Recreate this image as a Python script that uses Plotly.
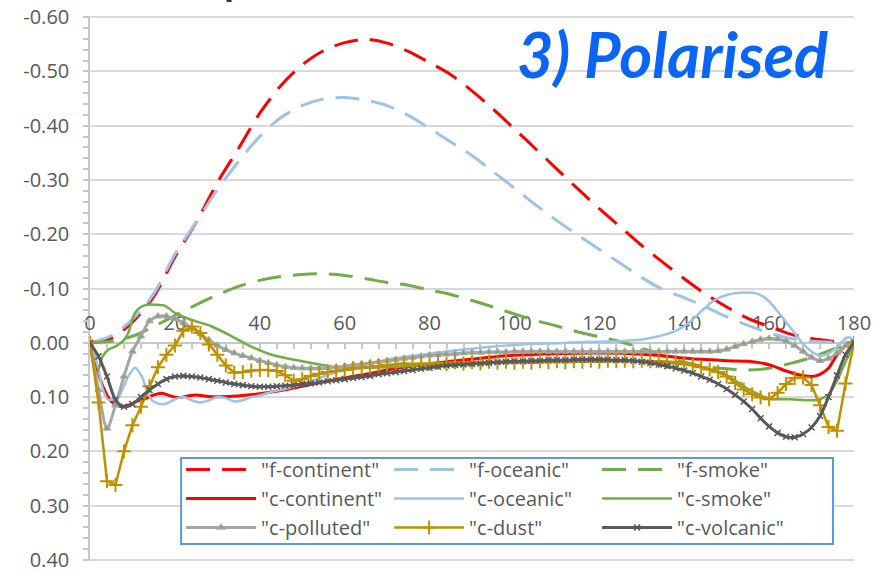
import plotly.graph_objects as go
import numpy as np

# ---------------- data ----------------
# f-series (dashed), sampled every 5 degrees
f_angle = list(range(0, 181, 5))
f_continent = [0, -0.008, -0.038, -0.085, -0.158, -0.222, -0.295, -0.358, -0.423, -0.474,
               -0.512, -0.538, -0.553, -0.559, -0.552, -0.537, -0.516, -0.494, -0.464, -0.43,
               -0.394, -0.357, -0.32, -0.283, -0.247, -0.213, -0.179, -0.148, -0.118, -0.09,
               -0.066, -0.045, -0.03, -0.016, -0.008, -0.003, 0]
f_oceanic = [0, -0.013, -0.043, -0.09, -0.163, -0.222, -0.282, -0.334, -0.38, -0.415,
             -0.437, -0.449, -0.452, -0.447, -0.437, -0.419, -0.395, -0.37, -0.345, -0.315,
             -0.285, -0.254, -0.225, -0.198, -0.172, -0.146, -0.12, -0.098, -0.083, -0.066,
             -0.048, -0.032, -0.018, -0.008, -0.003, -0.001, 0]
f_smoke = [0, -0.003, -0.012, -0.03, -0.05, -0.07, -0.088, -0.104, -0.115, -0.122,
           -0.126, -0.127, -0.124, -0.118, -0.111, -0.106, -0.097, -0.089, -0.078, -0.066,
           -0.053, -0.041, -0.031, -0.02, -0.011, -0.002, 0.01, 0.024, 0.036, 0.044,
           0.048, 0.05, 0.047, 0.038, 0.027, 0.012, 0]

# c-continent
cc_angle = [0, 1, 3, 5, 7, 9, 11, 13, 15, 17, 19, 21, 23, 25, 28, 32, 36, 40, 45, 50,
            55, 60, 65, 70, 75, 80, 85, 90, 95, 100, 110, 120, 130, 135, 140, 145, 150, 155, 158, 161,
            164, 167, 170, 172, 174, 176, 178, 180]
c_continent = [0, 0.03, 0.08, 0.108, 0.117, 0.115, 0.108, 0.103, 0.096, 0.093,
               0.098, 0.101, 0.098, 0.096, 0.099, 0.099, 0.097, 0.094, 0.088, 0.08,
               0.072, 0.065, 0.058, 0.05, 0.044, 0.039, 0.034, 0.03, 0.026, 0.023,
               0.02, 0.019, 0.021, 0.024, 0.028, 0.031, 0.033, 0.034, 0.037, 0.043,
               0.052, 0.059, 0.062, 0.058, 0.047, 0.022, 0.006, 0]

# c-oceanic
co_angle = [0, 1, 2, 3, 4.3, 6.7, 8, 9, 10.6, 12.2, 13.5, 14.5, 16, 18, 20, 22, 24, 26, 28, 30,
            32, 34, 36, 38, 40, 43, 46, 50, 55, 60, 65, 70, 75, 80, 85, 90, 95, 100, 105, 110,
            115, 120, 125, 130, 134, 138, 141, 144, 147, 150, 153, 156, 158, 160, 162, 164, 166, 168, 170, 172,
            174, 176, 178, 179, 180]
c_oceanic = [0, 0.02, 0.05, 0.085, 0.105, 0.099, 0.08, 0.062, 0.046, 0.062,
             0.09, 0.105, 0.112, 0.112, 0.104, 0.1, 0.106, 0.11, 0.106, 0.1,
             0.102, 0.108, 0.106, 0.1, 0.097, 0.09, 0.085, 0.076, 0.062, 0.05,
             0.04, 0.031, 0.025, 0.02, 0.015, 0.011, 0.007, 0.004, 0.002, 0.001,
             -0.001, -0.002, -0.003, -0.006, -0.012, -0.022, -0.036, -0.058, -0.078, -0.088,
             -0.092, -0.092, -0.088, -0.076, -0.058, -0.038, -0.018, 0.002, 0.016, 0.024,
             0.02, 0.008, -0.008, -0.01, 0]

# c-smoke
cs_angle = [0, 1.5, 3, 4.3, 6.6, 8, 9, 10.6, 12, 13.5, 15.5, 17.7, 20, 22, 24, 28.7, 33.4, 38, 42.8, 46,
            50, 57, 62, 70, 80, 90, 100, 110, 120, 130, 140, 145, 150, 155, 160, 165, 170, 172, 174, 176,
            178, 180]
c_smoke = [0, 0.058, 0.025, 0.013, 0.004, -0.005, -0.018, -0.055, -0.066, -0.07,
           -0.07, -0.068, -0.055, -0.048, -0.042, -0.03, -0.012, 0.007, 0.022, 0.028,
           0.034, 0.044, 0.046, 0.045, 0.041, 0.038, 0.035, 0.033, 0.033, 0.034,
           0.04, 0.047, 0.06, 0.085, 0.103, 0.104, 0.106, 0.104, 0.095, 0.07,
           0.035, 0]

# marker series, sampled every 2 degrees
m_angle = list(range(0, 181, 2))
c_polluted = [0, 0.087, 0.158, 0.115, 0.062, 0.016, -0.012, -0.04, -0.049, -0.049,
              -0.044, -0.037, -0.027, -0.016, -0.005, 0.005, 0.013, 0.019, 0.024, 0.028,
              0.033, 0.037, 0.041, 0.044, 0.046, 0.047, 0.047, 0.047, 0.046, 0.045,
              0.043, 0.041, 0.039, 0.037, 0.035, 0.033, 0.031, 0.029, 0.027, 0.025,
              0.023, 0.022, 0.021, 0.02, 0.019, 0.018, 0.018, 0.017, 0.017, 0.017,
              0.016, 0.016, 0.016, 0.016, 0.016, 0.016, 0.016, 0.016, 0.016, 0.016,
              0.016, 0.016, 0.016, 0.016, 0.016, 0.016, 0.016, 0.016, 0.016, 0.016,
              0.016, 0.016, 0.016, 0.016, 0.015, 0.012, 0.007, 0.002, -0.002, -0.006,
              -0.008, -0.007, -0.003, 0.005, 0.016, 0.027, 0.033, 0.029, 0.019, 0.006,
              0]
c_dust = [0, 0.11, 0.255, 0.262, 0.2, 0.152, 0.118, 0.08, 0.045, 0.022,
          0.005, -0.022, -0.03, -0.018, 0.003, 0.022, 0.042, 0.055, 0.054, 0.051,
          0.05, 0.05, 0.052, 0.06, 0.07, 0.067, 0.061, 0.057, 0.054, 0.052,
          0.05, 0.047, 0.046, 0.044, 0.043, 0.041, 0.04, 0.038, 0.04, 0.038,
          0.039, 0.037, 0.039, 0.036, 0.038, 0.036, 0.038, 0.035, 0.037, 0.035,
          0.037, 0.035, 0.037, 0.034, 0.036, 0.034, 0.036, 0.034, 0.035, 0.033,
          0.035, 0.033, 0.034, 0.033, 0.034, 0.033, 0.034, 0.034, 0.035, 0.036,
          0.038, 0.041, 0.045, 0.049, 0.054, 0.062, 0.074, 0.086, 0.095, 0.101,
          0.104, 0.092, 0.076, 0.065, 0.064, 0.078, 0.115, 0.155, 0.162, 0.075,
          0]
c_volcanic = [0, 0.025, 0.062, 0.105, 0.118, 0.113, 0.1, 0.087, 0.076, 0.067,
              0.062, 0.061, 0.062, 0.064, 0.067, 0.07, 0.073, 0.076, 0.078, 0.08,
              0.081, 0.081, 0.08, 0.079, 0.078, 0.076, 0.075, 0.073, 0.071, 0.069,
              0.067, 0.065, 0.063, 0.061, 0.058, 0.056, 0.054, 0.052, 0.05, 0.048,
              0.046, 0.044, 0.042, 0.041, 0.04, 0.039, 0.038, 0.037, 0.036, 0.035,
              0.034, 0.034, 0.033, 0.033, 0.032, 0.032, 0.032, 0.031, 0.031, 0.031,
              0.031, 0.031, 0.032, 0.032, 0.033, 0.035, 0.037, 0.04, 0.043, 0.047,
              0.051, 0.056, 0.062, 0.068, 0.076, 0.085, 0.096, 0.108, 0.122, 0.139,
              0.154, 0.166, 0.173, 0.174, 0.168, 0.156, 0.135, 0.1, 0.06, 0.022,
              0]

y_ticks = [-0.6, -0.5, -0.4, -0.3, -0.2, -0.1, 0.0, 0.1, 0.2, 0.3, 0.4]
y_ticktext = ["-0.60", "-0.50", "-0.40", "-0.30", "-0.20", "-0.10", "0.00", "0.10", "0.20", "0.30", "0.40"]
x_ticks = [0, 20, 40, 60, 80, 100, 120, 140, 160, 180]

# ---------------- styles ----------------
RED = "#FF0000"
LBLUE = "#9DC3E6"
GREEN = "#70AD47"
GRAY = "#A5A5A5"
GOLD = "#BF9000"
DGRAY = "#595959"
DASH = "24px,12px"

fig = go.Figure()

def add_line(x, y, name, color, dash=None, width=3, shape="spline", marker=None, mode="lines"):
    fig.add_trace(go.Scatter(
        x=x, y=y, name=name, mode=mode,
        line=dict(color=color, width=width, dash=dash, shape=shape, smoothing=0.8 if shape == "spline" else None),
        marker=marker, hoverinfo="x+y+name"))

add_line(f_angle, f_continent, '"f-continent"', RED, dash=DASH, width=3)
add_line(f_angle, f_oceanic, '"f-oceanic"', LBLUE, dash=DASH, width=3)
add_line(f_angle, f_smoke, '"f-smoke"', GREEN, dash=DASH, width=3)
add_line(cc_angle, c_continent, '"c-continent"', RED, width=3)
add_line(co_angle, c_oceanic, '"c-oceanic"', LBLUE, width=2.5)
add_line(cs_angle, c_smoke, '"c-smoke"', GREEN, width=2.5)
add_line(m_angle, c_polluted, '"c-polluted"', GRAY, width=3, shape="spline", mode="lines+markers",
         marker=dict(symbol="triangle-up", size=6, color=GREEN, line=dict(color=GRAY, width=1.5)))
add_line(m_angle, c_dust, '"c-dust"', GOLD, width=2.5, shape="linear", mode="lines+markers",
         marker=dict(symbol="cross-thin", size=10, color=GOLD, line=dict(color=GOLD, width=2)))
add_line(m_angle, c_volcanic, '"c-volcanic"', DGRAY, width=3, shape="spline", mode="lines+markers",
         marker=dict(symbol="x-thin", size=6, color=DGRAY, line=dict(color=DGRAY, width=1.5)))

TICKFONT = dict(family="Open Sans, Liberation Sans, sans-serif", size=20, color="#595959")

x_minor = [v for v in range(0, 181, 4) if v % 20 != 0]
y_minor = [round(v, 2) for v in np.arange(-0.6, 0.401, 0.02)]

# plot area in pixels: top 16, bottom 561 -> paper fraction helper
def py(ypx):
    return (561 - ypx) / 545.0

def px(xpx):
    return (xpx - 90) / 763.0

fig.update_layout(
    width=873, height=570,
    margin=dict(l=90, r=19, t=16, b=9, autoexpand=False),
    paper_bgcolor="white", plot_bgcolor="white",
    xaxis=dict(
        range=[0, 180], side="top", anchor="free", position=0.402 / 1.004,
        showline=True, linecolor="#C8C8C8", linewidth=1.5,
        showgrid=False, zeroline=False, layer="below traces", automargin=False,
        tickmode="array", tickvals=x_ticks,
        ticks="inside", ticklen=5, tickcolor="#C8C8C8", tickwidth=1.5,
        minor=dict(tickmode="array", tickvals=x_minor, ticks="inside", ticklen=5,
                   tickcolor="#C8C8C8", tickwidth=1.5, showgrid=False),
        tickfont=TICKFONT, ticklabelstandoff=4,
    ),
    yaxis=dict(
        range=[0.402, -0.602], domain=[0, 1],
        showline=True, linecolor="#C8C8C8", linewidth=1.5,
        showgrid=True, gridcolor="#D9D9D9", gridwidth=1.5,
        zeroline=False, layer="below traces", automargin=False,
        tickmode="array", tickvals=y_ticks, ticktext=y_ticktext,
        ticks="outside", ticklen=5, tickcolor="#C8C8C8", tickwidth=1.5,
        minor=dict(tickmode="array", tickvals=y_minor, ticks="outside", ticklen=5,
                   tickcolor="#C8C8C8", tickwidth=1.5, showgrid=False),
        tickfont=TICKFONT, ticklabelstandoff=10, ticklabeloverflow="allow",
    ),
    legend=dict(
        orientation="h", x=px(181), xanchor="left", y=py(450), yanchor="top",
        bordercolor="rgba(0,0,0,0)", borderwidth=0, bgcolor="rgba(0,0,0,0)",
        font=dict(family="Open Sans, Liberation Sans, sans-serif", size=20, color="#595959"),
        itemwidth=70, entrywidth=123, entrywidthmode="pixels", traceorder="normal",
    ),
    shapes=[
        dict(type="rect", xref="paper", yref="paper", layer="above",
             x0=px(181), x1=px(832), y0=py(544), y1=py(458),
             line=dict(color="#5B9BD5", width=2), fillcolor="white"),
    ],
    annotations=[
        dict(text="<b><i>3) Polarised</i></b>", xref="paper", yref="paper",
             x=px(672), y=0.932, xanchor="center", yanchor="middle", showarrow=False,
             font=dict(family="Lato, Liberation Sans, sans-serif", size=63, color="#0A64F5")),
        dict(text="<b>p</b>", xref="paper", yref="paper",
             x=px(235), y=1.105, xanchor="center", yanchor="top", showarrow=False,
             font=dict(family="Liberation Sans, sans-serif", size=36, color="#1F3864")),
    ],
)

fig.write_html("out.html")
